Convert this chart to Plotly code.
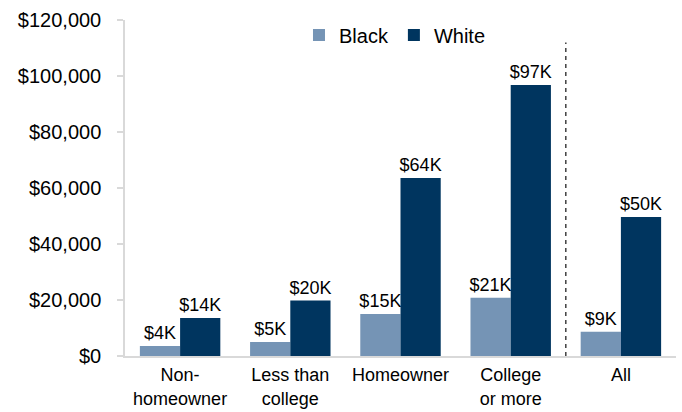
import plotly.graph_objects as go

# Median household wealth by group
categories = ["Non-<br>homeowner", "Less than<br>college", "Homeowner", "College<br>or more", "All"]
black_values = [3600, 5000, 15000, 20800, 8700]
white_values = [13600, 19800, 63600, 96800, 49600]
y_ticks = [0, 20000, 40000, 60000, 80000, 100000, 120000]
y_tick_labels = ["$0", "$20,000", "$40,000", "$60,000", "$80,000", "$100,000", "$120,000"]

BLACK_COLOR = "#7594B5"
WHITE_COLOR = "#00355F"
FONT = "Liberation Sans, Arial, sans-serif"


def k_label(v):
    return f"${round(v / 1000)}K"


fig = go.Figure()
fig.add_trace(go.Bar(
    name="Black", x=categories, y=black_values,
    marker=dict(color=BLACK_COLOR, line=dict(width=0)),
    text=[k_label(v) for v in black_values], textposition="outside",
    constraintext="none", cliponaxis=False,
    textfont=dict(size=18, color="#000000", family=FONT),
))
fig.add_trace(go.Bar(
    name="White", x=categories, y=white_values,
    marker=dict(color=WHITE_COLOR, line=dict(width=0)),
    text=[k_label(v) for v in white_values], textposition="outside",
    constraintext="none", cliponaxis=False,
    textfont=dict(size=18, color="#000000", family=FONT),
))

# Dashed divider separating the overall group
fig.add_shape(type="line", xref="x", yref="y", x0=3.5, x1=3.5, y0=0, y1=112000,
              line=dict(color="#404040", width=1.5, dash="4px,4px"))

fig.update_layout(
    width=682, height=412,
    margin=dict(l=125, r=6, t=20, b=56),
    paper_bgcolor="white", plot_bgcolor="white",
    barmode="group", bargap=0.27, bargroupgap=0,
    font=dict(family=FONT, size=18, color="#000000"),
    showlegend=True,
    legend=dict(orientation="h", x=0.49, y=0.955, xanchor="center", yanchor="middle",
                font=dict(size=20, family=FONT, color="#000000"),
                bgcolor="rgba(0,0,0,0)", itemwidth=30, traceorder="normal"),
)
fig.update_xaxes(
    showline=True, linecolor="#D9D9D9", linewidth=1.5, automargin=False,
    ticks="", showgrid=False, ticklabelstandoff=2,
    tickfont=dict(size=18, family=FONT, color="#000000"),
)
fig.update_yaxes(
    range=[0, 120000], tickvals=y_ticks, ticktext=y_tick_labels,
    showline=True, linecolor="#D9D9D9", linewidth=1.5, automargin=False,
    ticks="outside", ticklen=6, tickcolor="#D9D9D9", tickwidth=1.5,
    showgrid=False, zeroline=False, ticklabelstandoff=12,
    tickfont=dict(size=20, family=FONT, color="#000000"),
)

fig.write_html("out.html")
